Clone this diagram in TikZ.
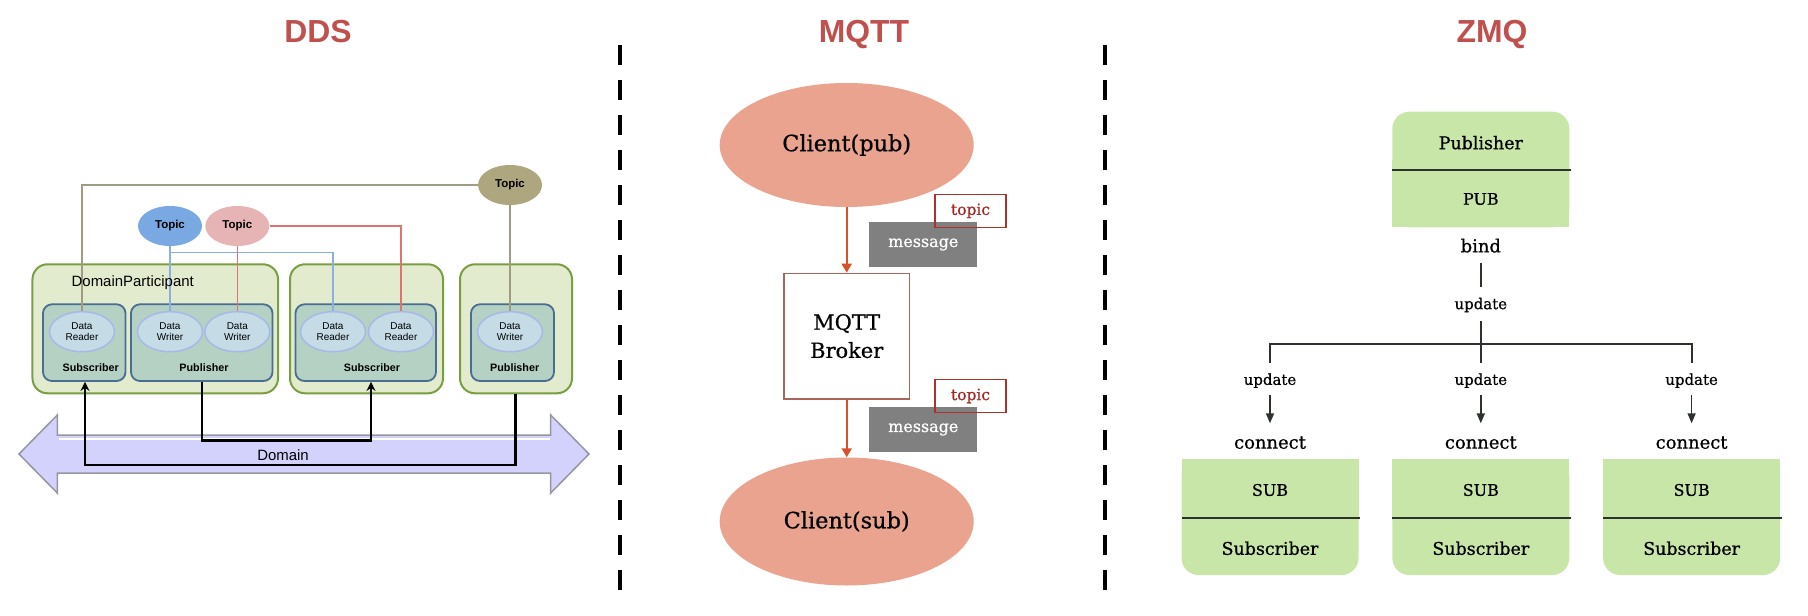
\documentclass[tikz,border=0pt]{standalone}
\usepackage{fontspec}
\setmainfont{DejaVu Serif}[FakeBold=0.7]
\newfontfamily\sansf{Liberation Sans}
\usetikzlibrary{shapes.geometric,arrows.meta}
\definecolor{ttl}{RGB}{192,80,77}
\definecolor{dpfill}{RGB}{227,235,206}
\definecolor{dpdraw}{RGB}{122,158,66}
\definecolor{inFill}{RGB}{180,209,196}
\definecolor{inDraw}{RGB}{72,110,145}
\definecolor{elFill}{RGB}{197,219,230}
\definecolor{elDraw}{RGB}{168,184,232}
\definecolor{tblue}{RGB}{122,168,226}
\definecolor{tpink}{RGB}{230,180,180}
\definecolor{ttan}{RGB}{174,166,126}
\definecolor{lblue}{RGB}{140,176,222}
\definecolor{lpink}{RGB}{222,115,115}
\definecolor{ltan}{RGB}{160,156,132}
\definecolor{domfill}{RGB}{210,210,252}
\definecolor{domdraw}{RGB}{150,150,160}
\definecolor{salmon}{RGB}{233,163,142}
\definecolor{morange}{RGB}{214,82,42}
\definecolor{mgray}{RGB}{128,128,128}
\definecolor{mred}{RGB}{176,48,42}
\definecolor{mtxt}{RGB}{160,40,35}
\definecolor{mbrk}{RGB}{170,100,90}
\definecolor{zgreen}{RGB}{201,230,169}
\definecolor{zdark}{RGB}{45,50,45}
\tikzset{
  hd/.style={font=\sansf\bfseries\fontsize{32}{36}\selectfont, text=ttl, anchor=base, inner sep=0},
  sep/.style={line width=4.5bp, dash pattern=on 20bp off 15bp},
  dpbox/.style={draw=dpdraw, fill=dpfill, line width=2bp, rounded corners=15bp, minimum height=129bp, inner sep=0},
  inbox/.style={draw=inDraw, fill=inFill, line width=1.8bp, rounded corners=9bp, minimum height=76.7bp, inner sep=0},
  dent/.style={ellipse, draw=elDraw, fill=elFill, line width=1.5bp, minimum width=65bp, minimum height=40bp, inner sep=0, align=center, font=\sansf\fontsize{10}{10.5}\selectfont},
  topicel/.style={ellipse, minimum width=64bp, minimum height=40bp, inner sep=0, font=\sansf\bfseries\fontsize{11.5}{12}\selectfont},
  blbl/.style={anchor=base, inner sep=0, font=\sansf\bfseries\fontsize{10.8}{12}\selectfont},
  tline/.style={line width=1.3bp},
  blk/.style={draw=black, line width=2.5bp, -{Stealth[length=9bp,width=9bp]}},
  cl/.style={ellipse, fill=salmon, minimum width=254bp, inner sep=0, font=\fontsize{22.5}{26}\selectfont},
  marr/.style={draw=morange, line width=2bp, -{Triangle[length=9bp,width=10bp]}},
  msg/.style={fill=mgray, minimum width=108bp, minimum height=45.6bp, inner sep=0, text=white, font=\fontsize{16}{18}\selectfont},
  tpc/.style={draw=mred, line width=1.5bp, minimum width=71bp, minimum height=33bp, inner sep=0, text=mtxt, font=\fontsize{15.5}{18}\selectfont},
  brk/.style={draw=mbrk, line width=1.3bp, fill=white, minimum width=125.7bp, minimum height=125.7bp, align=center, inner sep=0, font=\fontsize{21}{28.3}\selectfont},
  zt/.style={inner sep=0, font=\fontsize{17.5}{20}\selectfont},
  zcap/.style={inner sep=0, font=\fontsize{16}{18}\selectfont},
  zbig/.style={inner sep=0, font=\fontsize{18}{20}\selectfont},
  zsmall/.style={inner sep=0, font=\fontsize{15}{18}\selectfont},
  zline/.style={draw=zdark, line width=2bp},
  zarr/.style={draw=zdark, line width=1.6bp, -{Triangle[length=10bp,width=8bp]}}
}
\begin{document}
\begin{tikzpicture}[x=1bp,y=-1bp]
\useasboundingbox (0,0) rectangle (1808,616);
% titles
\node[hd] (tdds) at (318,42.7) {DDS};
\node[hd] (tmqtt) at (864,42.7) {MQTT};
\node[hd] (tzmq) at (1492,42.7) {ZMQ};
% separators
\coordinate (s1a) at (620,45); \coordinate (s1b) at (620,590);
\coordinate (s2a) at (1105,45); \coordinate (s2b) at (1105,590);
\draw[sep] (s1a) -- (s1b);
\draw[sep] (s2a) -- (s2b);
% ================= DDS
\node[dpbox, minimum width=245.5bp] (dp1) at (155.25,328.8) {};
\node[dpbox, minimum width=153bp] (dp2) at (366.5,328.8) {};
\node[dpbox, minimum width=112bp] (dp3) at (516,328.8) {};
\node[inbox, minimum width=82.5bp] (sub1) at (84.25,342.65) {};
\node[inbox, minimum width=141.5bp] (pub1) at (201.75,342.65) {};
\node[inbox, minimum width=140.5bp] (sub2) at (365.75,342.65) {};
\node[inbox, minimum width=83bp] (pub3) at (512.5,342.65) {};
\node[dent] (dr1) at (82,331.7) {Data\\Reader};
\node[dent] (dw1) at (170,331.7) {Data\\Writer};
\node[dent] (dw2) at (237.3,331.7) {Data\\Writer};
\node[dent] (dr2a) at (333,331.7) {Data\\Reader};
\node[dent] (dr2b) at (401,331.7) {Data\\Reader};
\node[dent] (dw3) at (510,331.7) {Data\\Writer};
\node[topicel, fill=tblue] (tb) at (170,226) {Topic};
\node[topicel, fill=tpink] (tp) at (237.3,226) {Topic};
\node[topicel, fill=ttan] (tt) at (510,185) {Topic};
\draw[tline, ltan] (tt.west) -| (dr1.north);
\draw[tline, ltan] (tt.south) -- (dw3.north);
\draw[tline, lblue] (tb.south) -- (dw1.north);
\coordinate (bj) at (170,252.7);
\draw[tline, lblue] (bj) -| (dr2a.north);
\draw[tline, lpink] (tp.south) -- (dw2.north);
\draw[tline, lpink] (tp.east) -| (dr2b.north);
\node[anchor=base west, inner sep=0, font=\sansf\fontsize{15}{18}\selectfont] (dplbl) at (71.5,286) {DomainParticipant};
\node[blbl] (ls1) at (90.7,371.7) {Subscriber};
\node[blbl] (lp1) at (204,371.7) {Publisher};
\node[blbl] (ls2) at (372,371.7) {Subscriber};
\node[blbl] (lp3) at (514.7,371.7) {Publisher};
% domain arrow
\filldraw[fill=domfill, draw=domdraw, line width=1.5bp] (19,454) -- (57.3,415) -- (57.3,435) -- (550.7,435) -- (550.7,415) -- (589,454) -- (550.7,493) -- (550.7,473) -- (57.3,473) -- (57.3,493) -- cycle;
\draw[white, line width=2bp] (58.5,438.5) -- (549.5,438.5);
\node[inner sep=0, font=\sansf\fontsize{15}{18}\selectfont] (dom) at (283,455) {Domain};
\coordinate (k1) at (202,440.7); \coordinate (k2) at (371,440.7);
\draw[blk] (pub1.south -| k1) -- (k1) -- (k2) -- (k2 |- sub2.south);
\coordinate (k3) at (515.5,465); \coordinate (k4) at (85,465);
\draw[blk] (dp3.south -| k3) -- (k3) -- (k4) -- (k4 |- sub1.south);
% ================= MQTT
\node[cl, minimum height=124bp] (cpub) at (846.7,145) {Client(pub)};
\node[brk] (brk) at (846.7,336.2) {MQTT\\Broker};
\node[cl, minimum height=128bp] (csub) at (846.7,521.5) {Client(sub)};
\node[msg] (msg1) at (923.3,244.5) {message};
\node[tpc] (tpc1) at (970.5,210.8) {topic};
\node[msg] (msg2) at (923.3,429.5) {message};
\node[tpc] (tpc2) at (970.5,396) {topic};
\draw[marr] (cpub.south) -- (brk.north);
\draw[marr] (brk.south) -- (csub.north);
% ================= ZMQ
\fill[zgreen, rounded corners=17bp] (1392.3,111.7) rectangle (1569.3,227.3);
\fill[zgreen] (1392.3,160) rectangle (1569.3,227.3);
\draw[zline] (1392.3,170) -- (1571,170);
\node[zt] (zpub) at (1480.8,142.7) {Publisher};
\node[zcap] (zpubs) at (1480.8,199) {PUB};
\node[zbig] (zbind) at (1480.8,245.7) {bind};
\node[zsmall] (zu0) at (1480.8,305) {update};
\foreach \cx/\i in {1270/1,1480.8/2,1691.6/3}{
  \fill[zgreen, rounded corners=17bp] (\cx-88.5,459.3) rectangle (\cx+88.5,575);
  \fill[zgreen] (\cx-88.5,459.3) rectangle (\cx+88.5,520);
  \draw[zline] (\cx-88.5,517.7) -- (\cx+90,517.7);
  \node[zcap] (zsub\i) at (\cx,490) {SUB};
  \node[zt] (zsn\i) at (\cx,548.3) {Subscriber};
  \node[zsmall] (zu\i) at (\cx,380.7) {update};
  \node[zbig] (zc\i) at (\cx,442.7) {connect};
  \draw[zarr] ([yshift=-14.3bp]zu\i.center) -- ([yshift=19.4bp]zc\i.center);
}
\draw[zline] ([yshift=-17.6bp]zbind.center) -- ([yshift=18.3bp]zu0.center);
\draw[zline] ([yshift=-15.7bp]zu0.center) -- ([yshift=18bp]zu2.center);
\draw[zline] ([yshift=18bp]zu1.center) -- ([yshift=36.7bp]zu1.center) -- ([yshift=36.7bp]zu3.center) -- ([yshift=18bp]zu3.center);
\end{tikzpicture}
\end{document}
